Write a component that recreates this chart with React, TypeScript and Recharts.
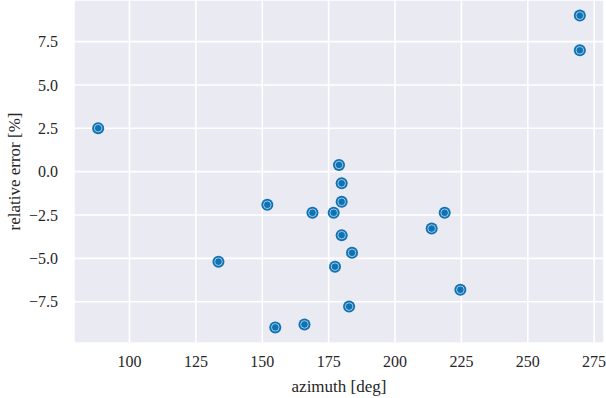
import { CartesianGrid, Scatter, ScatterChart, XAxis, YAxis } from "recharts";

// azimuth [deg] and relative error [%]
const azimuth = [
  88.2, 269.6, 269.6, 133.5, 151.9, 154.9, 165.9, 168.9, 176.9, 178.9,
  179.9, 179.9, 179.9, 177.4, 183.8, 182.7, 213.8, 218.7, 224.6,
];
const relError = [
  2.51, 9.0, 7.0, -5.19, -1.91, -8.98, -8.81, -2.37, -2.37, 0.39,
  -0.67, -1.74, -3.66, -5.48, -4.68, -7.78, -3.28, -2.37, -6.81,
];

const xTicks = [100, 125, 150, 175, 200, 225, 250, 275];
const yTicks = [-7.5, -5.0, -2.5, 0.0, 2.5, 5.0, 7.5];

const points = azimuth.map((a, i) => ({ az: a, err: relError[i] }));

const BLUE = "#0e72b3";
const INK = "#262626";
const FONT = "Liberation Serif, DejaVu Serif, serif";

const fmtY = (v: number) => {
  const s = Math.abs(v).toFixed(1);
  return v < 0 ? `\u2212${s}` : s;
};

const Marker = (props: any) => (
  <g>
    <circle cx={props.cx} cy={props.cy} r={6} fill={BLUE} />
    <circle cx={props.cx} cy={props.cy} r={3.8} fill="none" stroke="#ffffff" strokeWidth={0.7} strokeOpacity={0.85} />
  </g>
);

const XLabel = (props: any) => {
  const vb = props.viewBox || {};
  return (
    <text x={vb.x + vb.width / 2} y={386} textAnchor="middle" dominantBaseline="central" fill={INK} fontSize={17} fontFamily={FONT}>
      azimuth [deg]
    </text>
  );
};

const YLabel = (props: any) => {
  const vb = props.viewBox || {};
  const cy = vb.y + vb.height / 2;
  return (
    <text x={14} y={cy} transform={`rotate(-90 14 ${cy})`} textAnchor="middle" dominantBaseline="central" fill={INK} fontSize={17} fontFamily={FONT}>
      relative error [%]
    </text>
  );
};

export default function App() {
  return (
    <div style={{ position: "absolute", left: 0, top: 0, width: 606, height: 398 }}>
      <ScatterChart width={606} height={398} margin={{ top: 0, right: 2, bottom: 0, left: 0 }}>
        <CartesianGrid fill="#eaeaf2" stroke="#ffffff" strokeWidth={1.6} />
        <XAxis
          type="number"
          dataKey="az"
          domain={[79.1, 278.7]}
          ticks={xTicks}
          axisLine={false}
          tickLine={false}
          tickSize={0}
          tickMargin={13}
          height={55}
          tick={{ fill: INK, fontSize: 16, fontFamily: FONT }}
          label={<XLabel />}
        />
        <YAxis
          type="number"
          dataKey="err"
          domain={[-9.88, 9.9]}
          ticks={yTicks}
          tickFormatter={fmtY}
          axisLine={false}
          tickLine={false}
          tickSize={0}
          tickMargin={16}
          width={74}
          tick={{ fill: INK, fontSize: 16, fontFamily: FONT }}
          label={<YLabel />}
        />
        <Scatter data={points} shape={Marker} isAnimationActive={false} />
      </ScatterChart>
    </div>
  );
}
